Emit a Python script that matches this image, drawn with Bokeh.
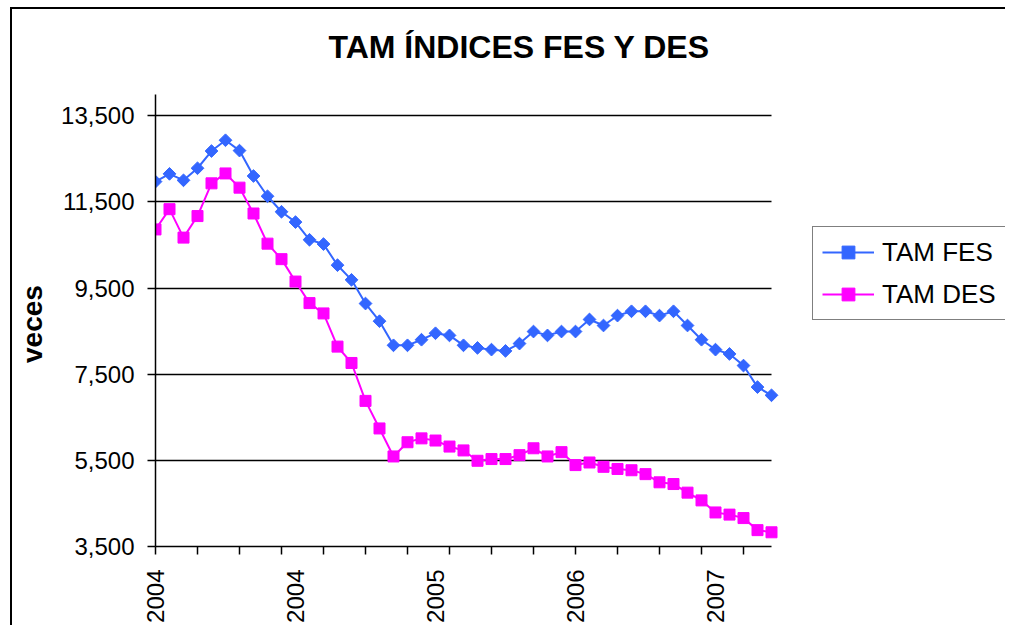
import math
from bokeh.plotting import figure
from bokeh.models import (Range1d, FixedTicker, NumeralTickFormatter, Legend, LegendItem,
                          ColumnDataSource, Label)
from bokeh.embed import file_html
from bokeh.resources import INLINE

# ---- data ----
months = list(range(45))  # monthly categories, Jan 2004 .. Sep 2007
tick_label_positions = [0, 10, 20, 30, 40]
tick_labels = ["2004", "2004", "2005", "2006", "2007"]

tam_fes = [11970, 12150, 12000, 12280, 12680, 12930, 12690, 12100, 11630, 11270,
           11030, 10620, 10520, 10030, 9690, 9140, 8730, 8170, 8170, 8300,
           8450, 8400, 8170, 8110, 8070, 8040, 8210, 8490, 8400, 8490,
           8490, 8770, 8630, 8860, 8960, 8960, 8860, 8960, 8630, 8300,
           8070, 7970, 7700, 7200, 7010]
tam_des = [10860, 11330, 10670, 11170, 11930, 12160, 11830, 11230, 10530, 10170,
           9650, 9150, 8910, 8140, 7760, 6880, 6240, 5590, 5920, 6010,
           5960, 5820, 5730, 5490, 5530, 5530, 5620, 5780, 5590, 5690,
           5390, 5450, 5350, 5300, 5270, 5180, 4990, 4950, 4750, 4570,
           4290, 4240, 4160, 3880, 3830]

y_ticks = [3500, 5500, 7500, 9500, 11500, 13500]
Y_MIN, Y_MAX = 3500, 14000

FONT = "Liberation Sans"
BLUE = "#3366FF"
PINK = "#FF00FF"

W, H = 1005, 625
LEFT, BOTTOM = 155, 77
PLOT_RIGHT, PLOT_TOP, PLOT_BOTTOM = 771, 94, 548   # pixel box of the chart's plot area
X_LAST = months[-1]
# the frame runs on to the right and top edges so that title and legend fit inside it
x_end = X_LAST * (W - LEFT) / (PLOT_RIGHT - LEFT)
y_end = Y_MAX + (Y_MAX - Y_MIN) * PLOT_TOP / (PLOT_BOTTOM - PLOT_TOP)

p = figure(width=W, height=H, output_backend="svg", toolbar_location=None, title=None,
           x_range=Range1d(0, x_end), y_range=Range1d(Y_MIN, y_end),
           min_border_left=LEFT, min_border_right=0, min_border_top=0,
           min_border_bottom=BOTTOM)

# outer chart border (left and top edges visible), drawn behind a transparent canvas
p.styles = {
    "background-color": "white",
    "background-image": "linear-gradient(#000, #000), linear-gradient(#000, #000)",
    "background-size": "2px 100%, 100% 2px",
    "background-position": "10px 7px, 10px 7px",
    "background-repeat": "no-repeat",
}
p.border_fill_alpha = 0
p.background_fill_alpha = 0
p.outline_line_color = None

p.add_layout(Label(x=328 - LEFT, y=PLOT_BOTTOM - 48, x_units="screen", y_units="screen",
                   text="TAM ÍNDICES FES Y DES", text_font=FONT, text_font_size="32px",
                   text_font_style="bold", text_color="black", text_baseline="alphabetic"))

# grid
p.xgrid.grid_line_color = None
p.ygrid.ticker = FixedTicker(ticks=y_ticks)
p.ygrid.grid_line_color = "black"
p.ygrid.grid_line_width = 1.5
p.ygrid.cross_bounds = (0, X_LAST)

# y axis
ya = p.yaxis[0]
ya.bounds = (Y_MIN, Y_MAX)
ya.ticker = FixedTicker(ticks=y_ticks)
ya.formatter = NumeralTickFormatter(format="0,0")
# trailing no-break spaces centre the visible word on the plot area rather than the frame
ya.axis_label = "veces" + "\u00a0" * 13
ya.axis_label_text_font = FONT
ya.axis_label_text_font_size = "28px"
ya.axis_label_text_font_style = "bold"
ya.axis_label_text_color = "black"
ya.axis_label_standoff = 10
ya.major_label_text_font = FONT
ya.major_label_text_font_size = "24px"
ya.major_label_text_color = "black"
ya.major_label_standoff = 13
ya.major_tick_in = 0
ya.major_tick_out = 8
ya.minor_tick_out = 0
ya.minor_tick_in = 0
ya.axis_line_color = "black"
ya.axis_line_width = 1.5
ya.major_tick_line_width = 1.5

# x axis
xa = p.xaxis[0]
xa.bounds = (0, X_LAST)
xa.ticker = FixedTicker(ticks=tick_label_positions, minor_ticks=list(range(0, 45, 3)))
xa.major_label_overrides = {pos: lab for pos, lab in zip(tick_label_positions, tick_labels)}
xa.major_label_orientation = math.pi / 2
xa.major_label_text_font = FONT
xa.major_label_text_font_size = "24px"
xa.major_label_text_color = "black"
xa.major_label_standoff = 15
xa.major_tick_out = 0
xa.major_tick_in = 0
xa.minor_tick_out = 8
xa.minor_tick_in = 0
xa.minor_tick_line_color = "black"
xa.minor_tick_line_width = 1.5
xa.axis_line_color = "black"
xa.axis_line_width = 1.5

src = ColumnDataSource(dict(x=months, fes=tam_fes, des=tam_des))

l1 = p.line("x", "fes", source=src, line_color=BLUE, line_width=2)
m1 = p.scatter("x", "fes", source=src, marker="square", angle=math.pi / 4, size=9,
               fill_color=BLUE, line_color=BLUE)
l2 = p.line("x", "des", source=src, line_color=PINK, line_width=2)
m2 = p.scatter("x", "des", source=src, marker="square", size=11,
               fill_color=PINK, line_color=PINK)

legend = Legend(items=[LegendItem(label="TAM FES", renderers=[l1, m1]),
                       LegendItem(label="TAM DES", renderers=[l2, m2])],
                location=(657, 226))
legend.label_text_font = FONT
legend.label_text_font_size = "26px"
legend.label_text_color = "black"
legend.glyph_width = 52
legend.glyph_height = 32
legend.label_height = 32
legend.label_standoff = 8
legend.spacing = 10
legend.padding = 9
legend.border_line_color = "black"
legend.border_line_width = 1.5
legend.background_fill_color = "white"
legend.margin = 0
p.add_layout(legend, "center")

open("out.html", "w").write(file_html(p, INLINE))
